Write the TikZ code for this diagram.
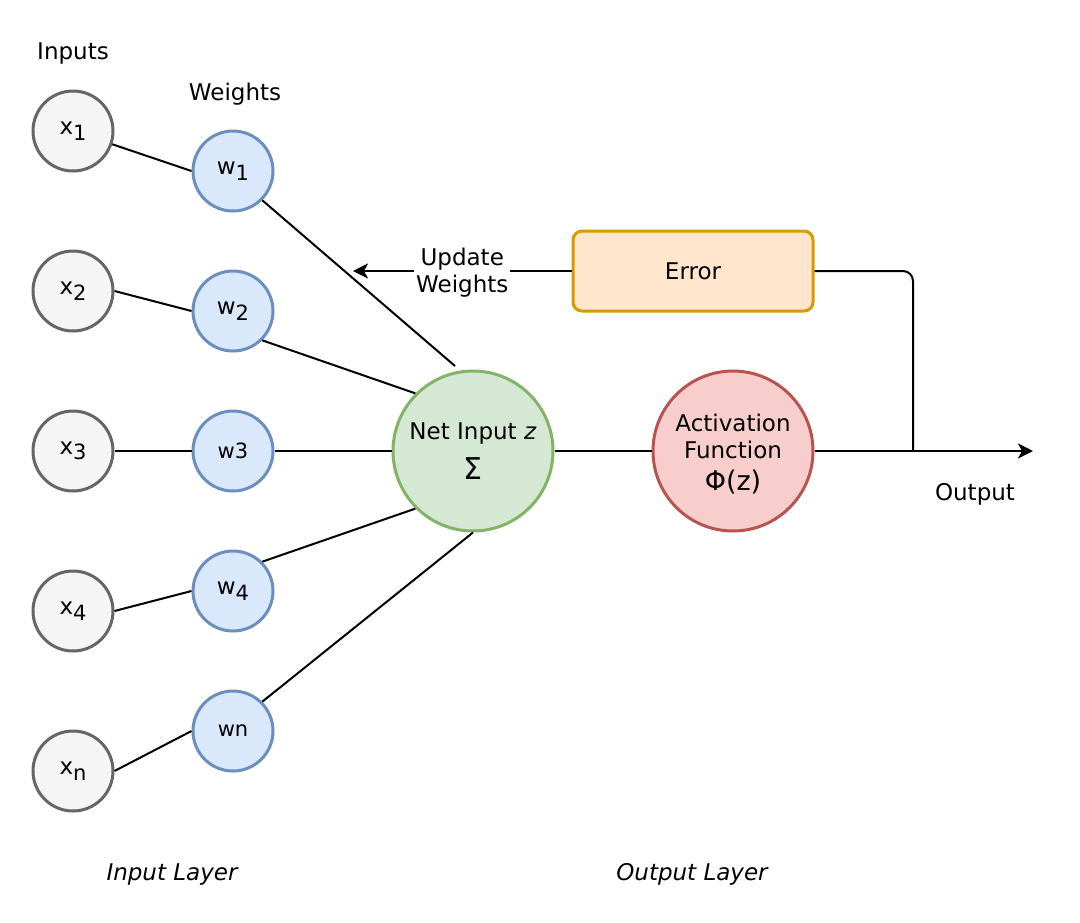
\documentclass[tikz,border=0pt]{standalone}
\usepackage{fontspec}
\setmainfont{DejaVu Sans}
\usetikzlibrary{arrows.meta}
\definecolor{infill}{HTML}{F5F5F5}
\definecolor{indraw}{HTML}{666666}
\definecolor{wfill}{HTML}{DAE8FC}
\definecolor{wdraw}{HTML}{6C8EBF}
\definecolor{netfill}{HTML}{D5E8D4}
\definecolor{netdraw}{HTML}{82B366}
\definecolor{actfill}{HTML}{F8CECC}
\definecolor{actdraw}{HTML}{B85450}
\definecolor{errfill}{HTML}{FFE6CC}
\definecolor{errdraw}{HTML}{D79B00}
\newcommand\mysub[1]{\raisebox{-0.45ex}{\fontsize{21}{21}\selectfont #1}}
\begin{document}
\begin{tikzpicture}[x=1pt,y=-1pt,
  txt/.style={font=\fontsize{23}{27}\selectfont, inner sep=0pt, align=center},
  circ/.style={circle, line width=3pt, inner sep=0pt, minimum size=80pt, font=\fontsize{23}{27}\selectfont},
  innode/.style={circ, fill=infill, draw=indraw},
  wnode/.style={circ, fill=wfill, draw=wdraw},
  conn/.style={line width=2pt, black},
  arrowline/.style={conn, -{Stealth[length=15pt, width=15pt, inset=4pt]}}
]
\useasboundingbox (0,0) rectangle (1080,922);

% labels
\node[txt] (inputs) at (73,54) {Inputs};
\node[txt] (weights) at (235,94) {Weights};
\node[txt] (output) at (975,494) {Output};
\node[txt, font=\fontsize{23}{27}\selectfont\itshape] (inlayer) at (172,874) {Input Layer};
\node[txt, font=\fontsize{23}{27}\selectfont\itshape] (outlayer) at (692,874) {Output Layer};

% inputs
\node[innode] (x1) at (73,131) {x\mysub{1}};
\node[innode] (x2) at (73,291) {x\mysub{2}};
\node[innode] (x3) at (73,451) {x\mysub{3}};
\node[innode] (x4) at (73,611) {x\mysub{4}};
\node[innode] (xn) at (73,771) {x\mysub{n}};

% weights
\node[wnode] (w1) at (233,171) {w\mysub{1}};
\node[wnode] (w2) at (233,311) {w\mysub{2}};
\node[wnode, font=\fontsize{21}{25}\selectfont] (w3) at (233,451) {w3};
\node[wnode, font=\fontsize{21}{25}\selectfont] (wn) at (233,731) {wn};
\node[wnode] (w4) at (233,591) {w\mysub{4}};

% net input
\node[circ, fill=netfill, draw=netdraw, minimum size=160pt] (net) at (473,451) {};
\node[txt] (netlbl) at (473,434) {Net Input \textit{z}};
\node[txt, font=\fontsize{30}{30}\selectfont] (sigma) at (473,469) {Σ};

% activation
\node[circ, fill=actfill, draw=actdraw, minimum size=160pt] (act) at (733,451) {};
\node[txt, font=\fontsize{23}{27}\selectfont] (actlbl) at (733,436) {Activation\\Function};
\node[txt, font=\fontsize{27}{30}\selectfont] (phi) at (733,482) {Φ(z)};

% error
\node[draw=errdraw, fill=errfill, line width=3pt, rounded corners=9pt,
      minimum width=240pt, minimum height=80pt, font=\fontsize{23}{27}\selectfont] (err) at (693,271) {Error};

% connectors inputs -> weights
\draw[conn] (x1) -- (w1.west);
\draw[conn] (x2.east) -- (w2.west);
\draw[conn] (x3.east) -- (w3.west);
\draw[conn] (x4.east) -- (w4.west);
\draw[conn] (xn.east) -- (wn.west);

% weights -> net
\coordinate (ntop) at (455,366);
\draw[conn] (w1.south east) -- (ntop);
\draw[conn] (w2.south east) -- (net.north west);
\draw[conn] (w3.east) -- (net.west);
\draw[conn] (w4.north east) -- (net.south west);
\draw[conn] (wn.north east) -- (net.south);

% net -> activation -> output
\draw[conn] (net.east) -- (act.west);
\coordinate (outend) at (1033,451);
\draw[arrowline] (act.east) -- (outend);

% error feedback
\coordinate (junc) at (913,451);
\draw[conn, rounded corners=10pt] (err.east) -| (junc);
\coordinate (upd) at (353,271);
\draw[arrowline] (err.west) -- node[txt, fill=white, inner sep=2pt, pos=0.5, yshift=-2pt] (updlbl) {Update\\Weights} (upd);
\end{tikzpicture}
\end{document}
